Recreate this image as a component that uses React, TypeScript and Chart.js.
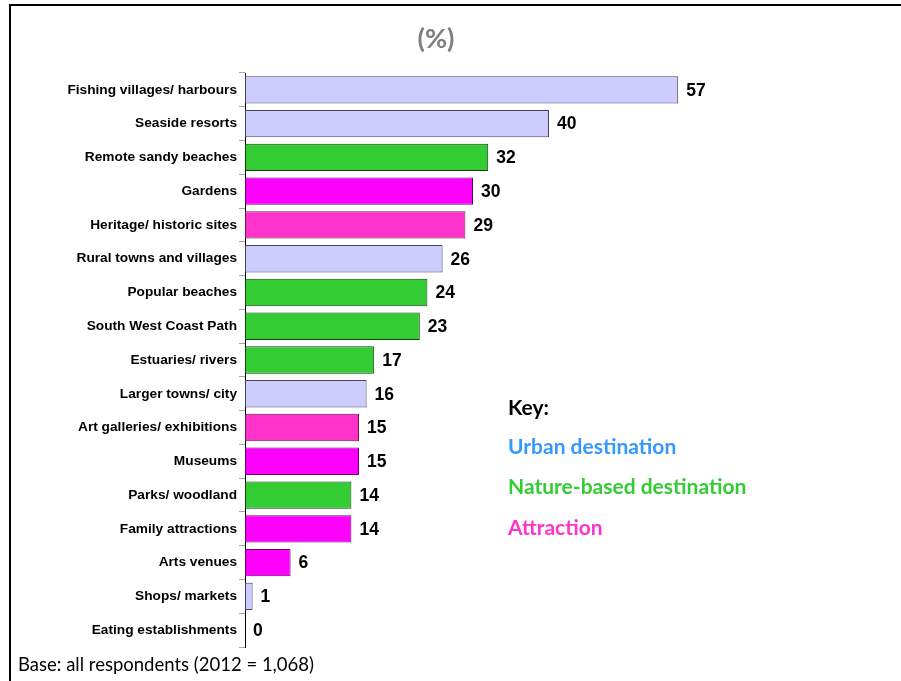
import React, { useEffect, useRef } from "react";
import { Chart, registerables } from "chart.js";

Chart.register(...registerables);

// Places / activities visited, share of respondents (%)
const categories = [
  "Fishing villages/ harbours",
  "Seaside resorts",
  "Remote sandy beaches",
  "Gardens",
  "Heritage/ historic sites",
  "Rural towns and villages",
  "Popular beaches",
  "South West Coast Path",
  "Estuaries/ rivers",
  "Larger towns/ city",
  "Art galleries/ exhibitions",
  "Museums",
  "Parks/ woodland",
  "Family attractions",
  "Arts venues",
  "Shops/ markets",
  "Eating establishments",
];

const values = [57, 40, 32, 30, 29, 26, 24, 23, 17, 16, 15, 15, 14, 14, 6, 1, 0];

// Destination type of each bar
const groups = [
  "urban", "urban", "nature", "attraction", "heritage", "urban", "nature", "nature",
  "nature", "urban", "heritage", "attraction", "nature", "attraction", "attraction",
  "urban", "urban",
];

const keyLabels = ["Urban destination", "Nature-based destination", "Attraction"];
const footnote = "Base: all respondents (2012 = 1,068)";
const titleText = "(%)";

const fillFor: Record<string, string> = {
  urban: "#CCCCFF",
  nature: "#33CC33",
  attraction: "#FF00FF",
  heritage: "#FF33CC",
};
const edgeFor: Record<string, string> = {
  urban: "#444460",
  nature: "#124012",
  attraction: "#660066",
  heritage: "#661a4d",
};
const keyColors = ["#3399FF", "#33CC33", "#FF33CC"];

const SANS = "'Liberation Sans', Arial, sans-serif";
const CAL = "Lato, 'Open Sans', sans-serif";

const decorations = {
  id: "decorations",
  afterDraw(chart: Chart) {
    const ctx = chart.ctx;
    ctx.save();

    // frame
    ctx.fillStyle = "#000";
    ctx.fillRect(9, 4, chart.width - 9, 2);
    ctx.fillRect(9, 4, 2, chart.height - 4);

    // title
    ctx.fillStyle = "#7F7F7F";
    ctx.font = `bold 27px ${CAL}`;
    ctx.textAlign = "center";
    ctx.textBaseline = "middle";
    ctx.fillText(titleText, 436, 39);

    // value labels
    const meta = chart.getDatasetMeta(0);
    ctx.fillStyle = "#000";
    ctx.font = `bold 17.5px ${SANS}`;
    ctx.textAlign = "left";
    meta.data.forEach((el: any, i: number) => {
      ctx.fillText(String(values[i]), el.x + 8, el.y + 1);
    });

    // key
    ctx.font = `bold 21px ${CAL}`;
    ctx.fillStyle = "#000";
    ctx.fillText("Key:", 508, 408);
    keyLabels.forEach((t, i) => {
      ctx.fillStyle = keyColors[i];
      ctx.fillText(t, 508, 447 + i * 40.5);
    });

    // footnote
    ctx.fillStyle = "#000";
    ctx.font = `18.5px ${CAL}`;
    ctx.fillText(footnote, 18, 665);

    ctx.restore();
  },
};

export default function App() {
  const ref = useRef<HTMLCanvasElement | null>(null);

  useEffect(() => {
    if (!ref.current) return;
    const chart = new Chart(ref.current, {
      type: "bar",
      data: {
        labels: categories,
        datasets: [
          {
            data: values,
            backgroundColor: groups.map((g) => fillFor[g]),
            borderColor: groups.map((g) => edgeFor[g]),
            borderWidth: 1,
            borderSkipped: false,
            barPercentage: 0.81,
            categoryPercentage: 1,
          },
        ],
      },
      options: {
        indexAxis: "y",
        animation: false,
        responsive: false,
        maintainAspectRatio: false,
        layout: { padding: { left: 10, right: 200, top: 73, bottom: 34 } },
        plugins: {
          legend: { display: false },
          tooltip: { enabled: false },
          title: { display: false },
        },
        scales: {
          x: { display: false, min: 0, max: 60 },
          y: {
            afterFit(scale: any) {
              scale.width = 235;
            },
            border: { display: true, color: "#000", width: 1 },
            grid: {
              drawOnChartArea: false,
              drawTicks: true,
              tickLength: 6,
              color: "#A6A6A6",
            },
            ticks: {
              padding: 2,
              color: "#000",
              font: { family: SANS, size: 13.7, weight: "bold" },
            },
          },
        },
      },
      plugins: [decorations],
    });
    return () => chart.destroy();
  }, []);

  return (
    <div style={{ position: "fixed", left: 0, top: 0, width: 901, height: 681, background: "#fff" }}>
      <canvas ref={ref} width={901} height={681} style={{ display: "block" }} />
    </div>
  );
}
